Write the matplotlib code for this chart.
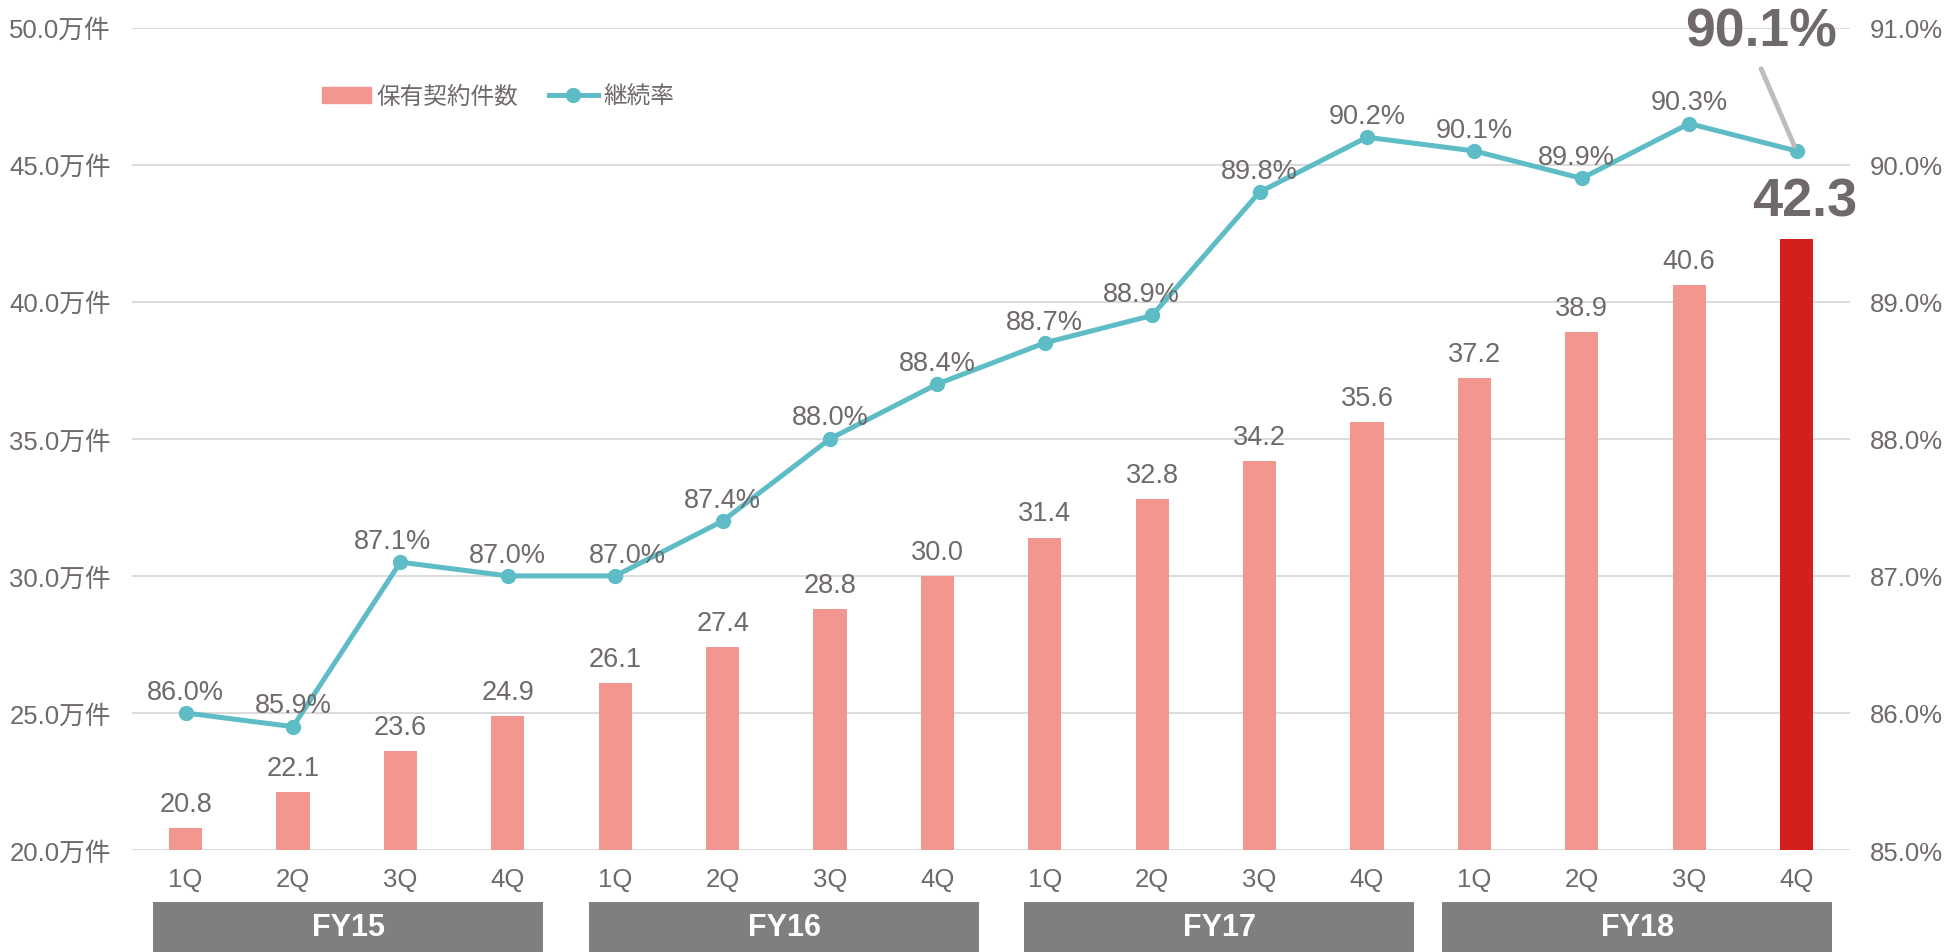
import numpy as np
import matplotlib
matplotlib.use("Agg")
import matplotlib.pyplot as plt
from matplotlib.patches import Rectangle
from matplotlib.lines import Line2D

plt.rcParams['font.family'] = ['Liberation Sans', 'Noto Sans CJK JP']

# データ
quarters = ['1Q', '2Q', '3Q', '4Q'] * 4
fiscal_years = ['FY15', 'FY16', 'FY17', 'FY18']
contracts = [20.8, 22.1, 23.6, 24.9, 26.1, 27.4, 28.8, 30.0,
             31.4, 32.8, 34.2, 35.6, 37.2, 38.9, 40.6, 42.3]
retention = [86.0, 85.9, 87.1, 87.0, 87.0, 87.4, 88.0, 88.4,
             88.7, 88.9, 89.8, 90.2, 90.1, 89.9, 90.3, 90.1]
left_ticks = [20, 25, 30, 35, 40, 45, 50]
right_ticks = [85, 86, 87, 88, 89, 90, 91]

# 色
c_bar = '#F1978F'
c_last = '#D3201C'
c_line = '#5DBCC5'
c_text = '#6F6A69'
c_grid = '#D9D9D9'
c_box = '#7F7F7F'

fig = plt.figure(figsize=(19.46, 9.53), dpi=100)
ax = fig.add_axes([0.0678, 0.107, 0.883, 0.863])
ax2 = ax.twinx()

x = np.arange(len(contracts))
colors = [c_bar] * (len(contracts) - 1) + [c_last]
ax.bar(x, contracts, width=0.31, color=colors, zorder=2)

ax.set_xlim(-0.5, len(contracts) - 0.5)
ax.set_ylim(20, 50)
ax.set_yticks(left_ticks)
ax.set_yticklabels([f'{v:.1f}万件' for v in left_ticks])
ax.set_xticks(x)
ax.set_xticklabels(quarters)
ax.grid(axis='y', color=c_grid, linewidth=1.3, zorder=0)
ax.set_axisbelow(True)
ax.tick_params(axis='both', length=0, labelsize=18.5, labelcolor=c_text)
ax.tick_params(axis='y', pad=15)
ax.tick_params(axis='x', pad=12)

ax2.plot(x, retention, color=c_line, linewidth=3.6, marker='o',
         markersize=10, zorder=3)
ax2.set_ylim(85, 91)
ax2.set_yticks(right_ticks)
ax2.set_yticklabels([f'{v:.1f}%' for v in right_ticks])
ax2.tick_params(axis='y', length=0, labelsize=18.5, labelcolor=c_text, pad=14)

for a in (ax, ax2):
    for s in a.spines.values():
        s.set_visible(False)

# 棒ラベル
for i, v in enumerate(contracts[:-1]):
    ax.annotate(f'{v:.1f}', (i, v), xytext=(0, 8), textcoords='offset points',
                ha='center', va='bottom', fontsize=19.5, color=c_text)
ax.annotate(f'{contracts[-1]:.1f}', (x[-1], contracts[-1]), xytext=(6, 9),
            textcoords='offset points', ha='center', va='bottom',
            fontsize=39, fontweight='bold', color=c_text)

# 継続率ラベル
dx = [0, 0, -6, 0, 9, 0, 0, 0, 0, -8, 0, 0, 0, -4, 0]
for i, v in enumerate(retention[:-1]):
    ax2.annotate(f'{v:.1f}%', (i, v), xytext=(dx[i], 6), textcoords='offset points',
                 ha='center', va='bottom', fontsize=19.5, color=c_text, zorder=4)

# 最新値の強調ラベル
ax2.annotate('', xy=(x[-1], retention[-1]), xytext=(x[-1] - 0.33, 90.7),
             arrowprops=dict(arrowstyle='-', color='#BFBDBC', lw=3.5,
                             shrinkA=0, shrinkB=4), annotation_clip=False)
ax2.text(x[-1] - 0.33, 90.97, f'{retention[-1]:.1f}%', ha='center', va='center',
         fontsize=38.5, fontweight='bold', color=c_text, clip_on=False)

# 凡例
handles = [Rectangle((0, 0), 1, 1, color=c_bar),
           Line2D([], [], color=c_line, linewidth=3.6, marker='o', markersize=10)]
fig.legend(handles, ['保有契約件数', '継続率'], loc='center left',
           bbox_to_anchor=(0.1545, 0.897), ncol=2, frameon=False, fontsize=17,
           labelcolor=c_text, handlelength=2.1, handletextpad=0.2,
           columnspacing=1.3)

# 年度ボックス
box_start = [-0.30, 3.76, 7.81, 11.70]
box_end = [3.33, 7.39, 11.44, 15.33]
trans = ax.get_xaxis_transform()
for fy, s, e in zip(fiscal_years, box_start, box_end):
    ax.add_patch(Rectangle((s, -0.125), e - s, 0.062, transform=trans,
                           facecolor=c_box, edgecolor='none', clip_on=False))
    ax.text((s + e) / 2, -0.094, fy, transform=trans, ha='center', va='center',
            fontsize=22, fontweight='bold', color='white')

fig.savefig('out.png', dpi=100, facecolor='white')
